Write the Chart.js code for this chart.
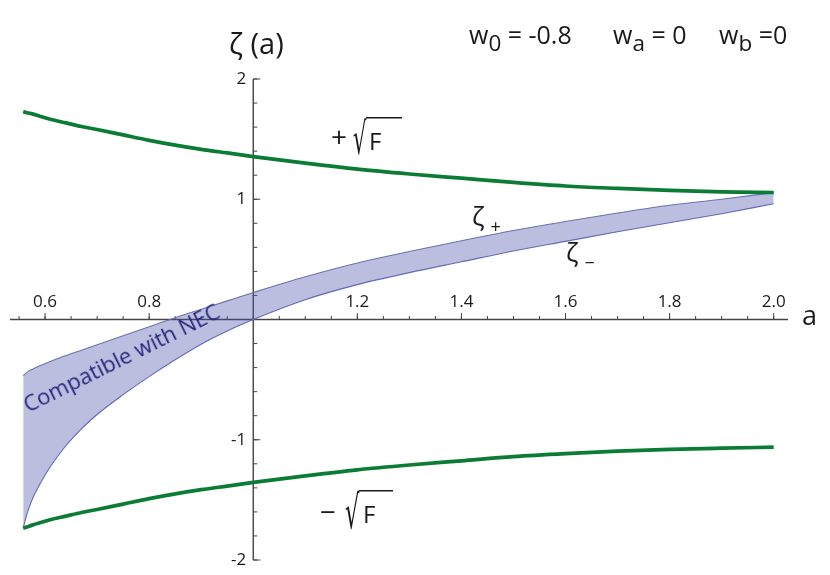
<!DOCTYPE html>
<html>
<head>
<meta charset="utf-8">
<script src="https://cdn.jsdelivr.net/npm/chart.js@4.4.1/dist/chart.umd.min.js"></script>
<style>
  html, body { margin: 0; padding: 0; background: #fff; }
  #wrap { position: relative; width: 830px; height: 575px; font-family: "Open Sans", "Noto Sans", sans-serif; color: #1a1a1a; }
  #wrap canvas { position: absolute; left: 0; top: 0; }
  .lbl { position: absolute; white-space: nowrap; line-height: 1; }
  .lbl sub { font-size: 0.9em; vertical-align: -0.32em; line-height: 0; }
</style>
</head>
<body>
<div id="wrap">
  <canvas id="zetaChart" width="830" height="575"></canvas>

  <div class="lbl" style="left:229px; top:28px; font-size:29px;">ζ (a)</div>
  <div class="lbl" style="left:469px; top:22px; font-size:25px;">w<sub>0</sub> = -0.8</div>
  <div class="lbl" style="left:613px; top:22px; font-size:25px;">w<sub>a</sub> = 0</div>
  <div class="lbl" style="left:719px; top:22px; font-size:25px;">w<sub>b</sub> =0</div>

  <div class="lbl" style="left:472px; top:203px; font-size:26px;">ζ<span style="font-size:18px; position:relative; top:7px; margin-left:6px;">+</span></div>
  <div class="lbl" style="left:566px; top:239px; font-size:26px;">ζ<span style="font-size:18px; position:relative; top:7px; margin-left:6px;">−</span></div>

  <div class="lbl" style="left:28px; top:393px; font-size:22px; color:#25257c; transform:rotate(-26.4deg); transform-origin:0 19.5px;">Compatible with NEC</div>

  <div class="lbl" style="left:802px; top:301px; font-size:27px;">a</div>
</div>

<script>
// scale factor a (x axis)
const aValues = [0.558, 0.565, 0.575, 0.59, 0.61, 0.64, 0.67, 0.7, 0.75, 0.8, 0.85, 0.9, 0.95, 1.0,
                 1.1, 1.2, 1.3, 1.4, 1.5, 1.6, 1.7, 1.8, 1.9, 2.0];

// +sqrt(F) and -sqrt(F) (green)
const sqrtFPlus  = [1.73, 1.72, 1.71, 1.69, 1.665, 1.635, 1.605, 1.58, 1.535, 1.49, 1.45, 1.415, 1.385, 1.355,
                    1.30, 1.25, 1.21, 1.175, 1.14, 1.11, 1.09, 1.073, 1.062, 1.056];
const sqrtFMinus = [-1.735, -1.725, -1.71, -1.69, -1.665, -1.635, -1.605, -1.58, -1.535, -1.49, -1.45, -1.415, -1.385, -1.355,
                    -1.30, -1.25, -1.21, -1.175, -1.14, -1.115, -1.095, -1.08, -1.07, -1.062];

// zeta+ and zeta- (edges of the NEC band)
const zetaPlus  = [-0.468, -0.44, -0.415, -0.385, -0.35, -0.30, -0.255, -0.21, -0.135, -0.06, 0.015, 0.085, 0.155, 0.224,
                   0.355, 0.47, 0.565, 0.655, 0.74, 0.815, 0.885, 0.95, 1.0, 1.055];
const zetaMinus = [-1.735, -1.62, -1.50, -1.37, -1.225, -1.05, -0.91, -0.79, -0.625, -0.475, -0.335, -0.205, -0.095, 0.0,
                   0.165, 0.29, 0.39, 0.48, 0.57, 0.65, 0.73, 0.805, 0.88, 0.962];

// ticks
const xTickValues = [0.6, 0.8, 1.2, 1.4, 1.6, 1.8, 2.0];
const xTickLabels = ['0.6', '0.8', '1.2', '1.4', '1.6', '1.8', '2.0'];
const yTickValues = [2, 1, -1, -2];
const yTickLabels = ['2', '1', '-1', '-2'];
const xMinorStep = 0.05;
const yMinorStep = 0.2;

const GREEN = '#0b7c35';
const BAND_EDGE = '#6c71b6';
const BAND_FILL = 'rgba(70, 80, 165, 0.37)';
const AXIS = '#444444';
const INK = '#1a1a1a';
const FONT = '"Open Sans", "Noto Sans", sans-serif';

function pts(ys) {
    return aValues.map((a, i) => ({ x: a, y: ys[i] }));
}

// axes crossing at (1, 0), ticks placed with the chart's own scales
const crossAxes = {
    id: 'crossAxes',
    beforeDatasetsDraw(chart) {
        const { ctx, chartArea, scales: { x, y } } = chart;
        const x0 = x.getPixelForValue(1);
        const y0 = y.getPixelForValue(0);

        ctx.save();
        ctx.strokeStyle = AXIS;
        ctx.lineWidth = 1.4;
        ctx.beginPath();
        ctx.moveTo(chartArea.left, y0);
        ctx.lineTo(chartArea.right, y0);
        ctx.moveTo(x0, y.getPixelForValue(2));
        ctx.lineTo(x0, y.getPixelForValue(-2));
        ctx.stroke();

        ctx.lineWidth = 1;
        ctx.beginPath();
        for (let v = 0.55; v <= 2.001; v += xMinorStep) {
            const px = x.getPixelForValue(v);
            ctx.moveTo(px, y0);
            ctx.lineTo(px, y0 - 3.5);
        }
        xTickValues.forEach(v => {
            const px = x.getPixelForValue(v);
            ctx.moveTo(px, y0);
            ctx.lineTo(px, y0 - 6.5);
        });
        for (let v = -2; v <= 2.001; v += yMinorStep) {
            const py = y.getPixelForValue(v);
            ctx.moveTo(x0, py);
            ctx.lineTo(x0 + 4, py);
        }
        yTickValues.forEach(v => {
            const py = y.getPixelForValue(v);
            ctx.moveTo(x0, py);
            ctx.lineTo(x0 + 7, py);
        });
        ctx.stroke();

        ctx.fillStyle = INK;
        ctx.font = '17px ' + FONT;
        ctx.textAlign = 'center';
        ctx.textBaseline = 'alphabetic';
        xTickValues.forEach((v, i) => {
            ctx.fillText(xTickLabels[i], x.getPixelForValue(v), y0 - 12.5);
        });
        ctx.textAlign = 'right';
        ctx.textBaseline = 'middle';
        yTickValues.forEach((v, i) => {
            ctx.fillText(yTickLabels[i], x0 - 7, y.getPixelForValue(v));
        });
        ctx.restore();
    }
};

// "±√F" labels: the √ glyph is stretched into a box, then the vinculum drawn over F
function sqrtLabel(ctx, sign, signX, signY, root, F) {
    ctx.save();
    ctx.fillStyle = INK;
    ctx.textAlign = 'left';
    ctx.textBaseline = 'middle';
    ctx.font = '28px ' + FONT;
    ctx.fillText(sign, signX, signY);

    ctx.textBaseline = 'alphabetic';
    ctx.font = '30px "DejaVu Sans", sans-serif';
    const m = ctx.measureText('√');
    const gl = -m.actualBoundingBoxLeft, gr = m.actualBoundingBoxRight;
    const gt = -m.actualBoundingBoxAscent, gb = m.actualBoundingBoxDescent;
    const sx = (root.x1 - root.x0) / (gr - gl);
    const sy = (root.y1 - root.y0) / (gb - gt);
    ctx.save();
    ctx.translate(root.x0 - gl * sx, root.y0 - gt * sy);
    ctx.scale(sx, sy);
    ctx.fillText('√', 0, 0);
    ctx.restore();

    ctx.fillRect(root.x1 - 1, root.y0, F.barEnd - root.x1 + 1, 1.5);
    ctx.font = F.size + 'px ' + FONT;
    ctx.fillText('F', F.x, F.y);
    ctx.restore();
}

const sqrtLabels = {
    id: 'sqrtLabels',
    afterDraw(chart) {
        const ctx = chart.ctx;
        sqrtLabel(ctx, '+', 331, 139, { x0: 353, x1: 367, y0: 117, y1: 155 }, { x: 369, y: 150, size: 24, barEnd: 402 });
        sqrtLabel(ctx, '−', 320, 514, { x0: 345, x1: 360, y0: 490, y1: 530 }, { x: 363, y: 523, size: 24, barEnd: 393 });
    }
};

const ctx = document.getElementById('zetaChart').getContext('2d');
new Chart(ctx, {
    type: 'line',
    data: {
        datasets: [
            { label: '+√F', data: pts(sqrtFPlus), borderColor: GREEN, borderWidth: 3.7, fill: false },
            { label: '−√F', data: pts(sqrtFMinus), borderColor: GREEN, borderWidth: 3.7, fill: false },
            { label: 'ζ+', data: pts(zetaPlus), borderColor: BAND_EDGE, borderWidth: 1.1, fill: '+1', backgroundColor: BAND_FILL },
            { label: 'ζ−', data: pts(zetaMinus), borderColor: BAND_EDGE, borderWidth: 1.1, fill: false }
        ]
    },
    options: {
        responsive: false,
        animation: false,
        layout: { padding: { left: 10, right: 42, top: 79, bottom: 15 } },
        elements: {
            point: { radius: 0, hoverRadius: 0 },
            line: { cubicInterpolationMode: 'monotone', borderCapStyle: 'butt' }
        },
        scales: {
            x: { type: 'linear', min: 0.5326, max: 2.0275, display: false },
            y: { type: 'linear', min: -2, max: 2, display: false }
        },
        plugins: {
            legend: { display: false },
            tooltip: { enabled: false }
        }
    },
    plugins: [crossAxes, sqrtLabels]
});
</script>
</body>
</html>
